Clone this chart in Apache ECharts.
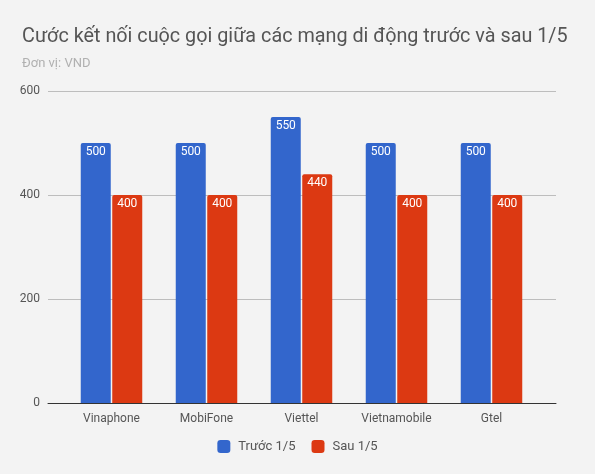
<!DOCTYPE html>
<html lang="vi">
<head>
    <meta charset="UTF-8">
    <title>Cước kết nối</title>
    <script src="https://cdn.jsdelivr.net/npm/echarts@6/dist/echarts.min.js"></script>
    <style>
        html, body { margin: 0; padding: 0; background: #f3f3f3; }
        #chart { width: 595px; height: 474px; }
    </style>
</head>
<body>
<div id="chart"></div>
<script type="text/javascript">
    var categories = ['Vinaphone', 'MobiFone', 'Viettel', 'Vietnamobile', 'Gtel'];
    var truoc = [500, 500, 550, 500, 500];
    var sau = [400, 400, 440, 400, 400];
    var seriesNames = ['Trước 1/5', 'Sau 1/5'];
    var yTicks = [0, 200, 400, 600];

    var chart = echarts.init(document.getElementById('chart'));

    // grid 0 carries gridlines + y labels (wide), grid 1 carries the bars (narrower)
    var barLabel = {
        show: true,
        position: 'insideTop',
        distance: 3,
        color: '#fff',
        fontSize: 12,
        fontFamily: 'Roboto'
    };

    var option = {
        backgroundColor: '#f3f3f3',
        textStyle: { fontFamily: 'Roboto' },
        title: {
            text: 'Cước kết nối cuộc gọi giữa các mạng di động trước và sau 1/5',
            subtext: 'Đơn vị: VND',
            left: 17,
            top: 22,
            itemGap: 10,
            textStyle: { fontSize: 19.8, fontWeight: 'normal', color: '#555', fontFamily: 'Roboto' },
            subtextStyle: { fontSize: 13, color: '#b0b0b0', fontFamily: 'Roboto' }
        },
        legend: {
            data: seriesNames,
            bottom: 16,
            left: 'center',
            icon: 'roundRect',
            itemWidth: 13,
            itemHeight: 13,
            itemGap: 16,
            textStyle: { fontSize: 13, color: '#555', padding: [0, 0, 0, 3] }
        },
        grid: [
            { left: 48, right: 39, top: 91, bottom: 71 },
            { left: 64, right: 56, top: 91, bottom: 71 }
        ],
        xAxis: [
            {
                gridIndex: 0, type: 'category', data: categories,
                axisLine: { show: true, lineStyle: { color: '#333' } },
                axisTick: { show: false }, axisLabel: { show: false }
            },
            {
                gridIndex: 1, type: 'category', data: categories,
                axisLine: { show: false }, axisTick: { show: false },
                axisLabel: { margin: 10, fontSize: 12, color: '#555' }
            }
        ],
        yAxis: [
            {
                gridIndex: 0, type: 'value', min: yTicks[0], max: yTicks[yTicks.length - 1], interval: 200,
                axisLine: { show: false }, axisTick: { show: false },
                axisLabel: { margin: 8, fontSize: 12, color: '#555' },
                splitLine: { lineStyle: { color: '#bdbdbd' } }
            },
            {
                gridIndex: 1, type: 'value', min: yTicks[0], max: yTicks[yTicks.length - 1], interval: 200,
                show: false, splitLine: { show: false }
            }
        ],
        series: [
            {
                name: seriesNames[0], type: 'bar', xAxisIndex: 1, yAxisIndex: 1,
                data: truoc, barWidth: 30, barGap: '5%',
                itemStyle: { color: '#3366cc', borderRadius: [2, 2, 0, 0] },
                label: barLabel
            },
            {
                name: seriesNames[1], type: 'bar', xAxisIndex: 1, yAxisIndex: 1,
                data: sau, barWidth: 30, barGap: '5%',
                itemStyle: { color: '#dc3912', borderRadius: [2, 2, 0, 0] },
                label: barLabel
            }
        ]
    };

    chart.setOption(option);
</script>
</body>
</html>
